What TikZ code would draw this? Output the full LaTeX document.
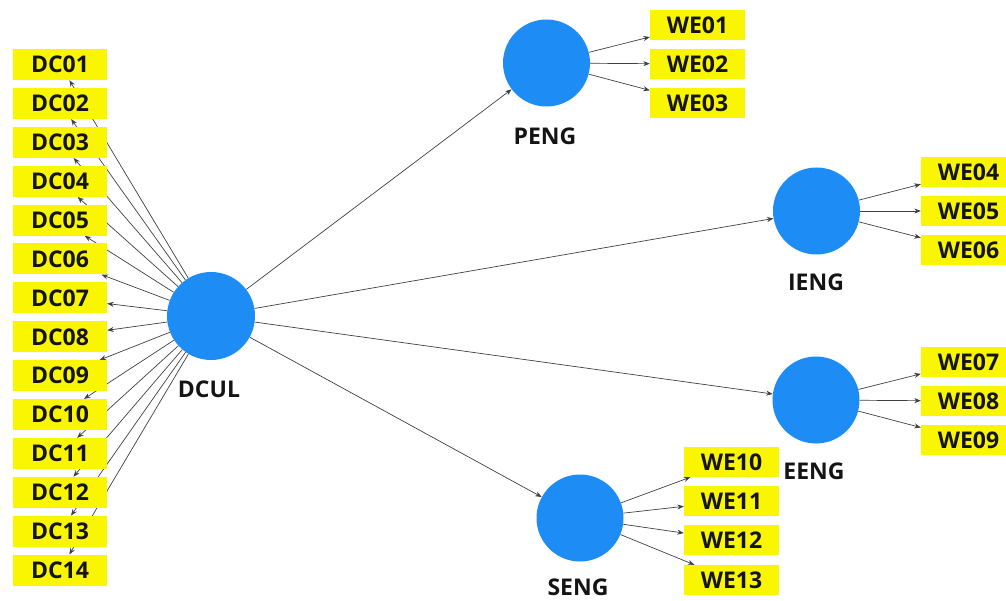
\documentclass[tikz,border=0pt]{standalone}
\usepackage{fontspec}
\setmainfont{Open Sans}
\usetikzlibrary{arrows.meta}
\pgfdeclarelayer{background}
\pgfsetlayers{background,main}
\definecolor{lvblue}{RGB}{30,140,245}
\definecolor{boxyellow}{RGB}{250,245,0}
\definecolor{txt}{RGB}{20,20,20}
\tikzset{
  ind/.style={fill=boxyellow, draw=none, minimum width=95pt, minimum height=30pt, inner sep=0pt,
    font=\fontsize{23}{26}\selectfont\bfseries, text=txt},
  dcind/.style={ind, minimum width=94pt, minimum height=31pt},
  lv/.style={circle, fill=lvblue, draw=none, minimum size=87pt, inner sep=0pt},
  lvlabel/.style={font=\fontsize{23}{26}\selectfont\bfseries, text=txt, inner sep=0pt},
  arr/.style={draw=black!75, line width=0.7pt, -{Stealth[length=6.5pt,width=5pt]}},
}
\begin{document}
\begin{tikzpicture}[x=1pt,y=-1pt]
\useasboundingbox (0,0) rectangle (1006,601);
% latent variables
\node[lv, minimum size=88pt] (DCUL) at (211,316) {};
\node[lv] (PENG) at (546.5,63) {};
\node[lv] (IENG) at (816.5,211) {};
\node[lv] (EENG) at (816,400) {};
\node[lv] (SENG) at (580,518) {};
\node[lvlabel] (lDCUL) at (209,389) {DCUL};
\node[lvlabel] (lPENG) at (545,136) {PENG};
\node[lvlabel] (lIENG) at (816,282) {IENG};
\node[lvlabel] (lEENG) at (814,471) {EENG};
\node[lvlabel] (lSENG) at (578,587) {SENG};
% DC indicators
\foreach \i/\t in {1/DC01,2/DC02,3/DC03,4/DC04,5/DC05,6/DC06,7/DC07,8/DC08,9/DC09,10/DC10,11/DC11,12/DC12,13/DC13,14/DC14}{
  \node[dcind] (\t) at (60,{64.5+38.9*(\i-1)}) {\t};
  \begin{pgfonlayer}{background}
    \draw[arr] (DCUL) -- (\t);
  \end{pgfonlayer}
}
% WE indicators
\node[ind] (WE01) at (697.5,25) {WE01};
\node[ind] (WE02) at (697.5,64) {WE02};
\node[ind] (WE03) at (697.5,103) {WE03};
\node[ind] (WE04) at (968.5,172) {WE04};
\node[ind] (WE05) at (968.5,211) {WE05};
\node[ind] (WE06) at (968.5,250) {WE06};
\node[ind] (WE07) at (968.5,362) {WE07};
\node[ind] (WE08) at (968.5,401) {WE08};
\node[ind] (WE09) at (968.5,440) {WE09};
\node[ind] (WE10) at (731.5,462) {WE10};
\node[ind] (WE11) at (731.5,501) {WE11};
\node[ind] (WE12) at (731.5,540) {WE12};
\node[ind] (WE13) at (731.5,580) {WE13};
\begin{pgfonlayer}{background}
  \draw[arr] (DCUL) -- (PENG);
  \draw[arr] (DCUL) -- (IENG);
  \draw[arr] (DCUL) -- (EENG);
  \draw[arr] (DCUL) -- (SENG);
  \foreach \t in {WE01,WE02,WE03} \draw[arr] (PENG) -- (\t);
  \foreach \t in {WE04,WE05,WE06} \draw[arr] (IENG) -- (\t);
  \foreach \t in {WE07,WE08,WE09} \draw[arr] (EENG) -- (\t);
  \foreach \t in {WE10,WE11,WE12,WE13} \draw[arr] (SENG) -- (\t);
\end{pgfonlayer}
\end{tikzpicture}
\end{document}
